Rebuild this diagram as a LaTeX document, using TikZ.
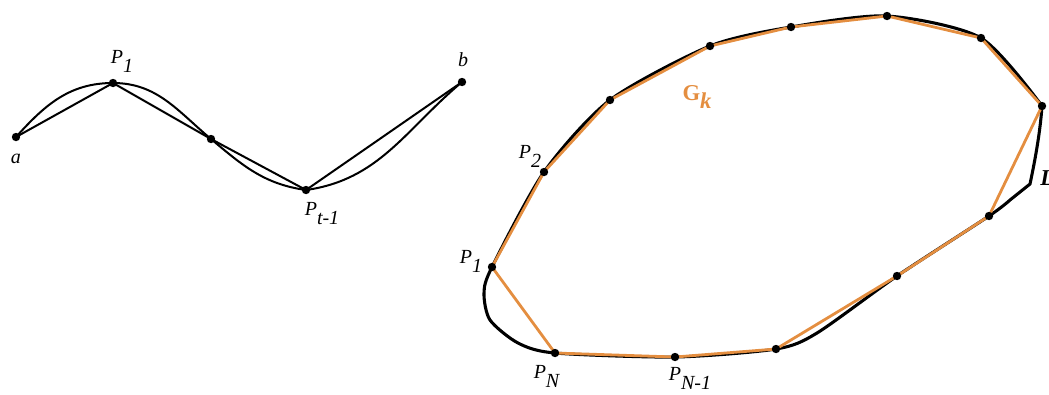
\documentclass[tikz,border=0pt]{standalone}
\usepackage{fontspec}
\setmainfont{Liberation Serif}
\definecolor{og}{RGB}{228,142,64}
\newcommand{\PSub}[2]{\textit{#1}\raisebox{-0.45em}{\textit{#2}}}
\begin{document}
\begin{tikzpicture}[x=0.75pt,y=-0.75pt,
  dot/.style={circle,fill=black,inner sep=0pt,minimum size=6.3pt},
  lbl/.style={font=\fontsize{15}{18}\selectfont,inner sep=0pt},
  thincurve/.style={line width=1.5pt,line join=round},
  thickcurve/.style={line width=2.3pt,line join=round},
  poly/.style={og,line width=2.1pt,line join=round}]
\useasboundingbox (0,0) rectangle (1049,394);
% ---- left figure
\node[dot] (a) at (16,137) {};
\node[dot] (p1) at (113,83) {};
\node[dot] (m) at (211,139) {};
\node[dot] (pt) at (306,190) {};
\node[dot] (b) at (462,82) {};
\draw[thincurve] (a.center) to[out=48,in=180] (p1.center) to[out=0,in=140] (m.center)
  to[out=-40,in=172] (pt.center) to[out=8,in=220] (b.center);
\draw[thincurve] (a.center) -- (p1.center) -- (m.center) -- (pt.center) -- (b.center);
\node[lbl] (la) at (16,159) {\textit{a}};
\node[lbl] (lp1) at (122,61) {\PSub{P}{1}};
\node[lbl] (lb) at (463,60) {\textit{b}};
\node[lbl] (lpt) at (322,214) {\PSub{P}{t-1}};
% ---- right figure
\coordinate (Q1) at (492,267);
\coordinate (Q2) at (544,172);
\coordinate (Q3) at (610,100);
\coordinate (Q4) at (710,46);
\coordinate (Q5) at (791,27);
\coordinate (Q6) at (887,16);
\coordinate (Q7) at (981,38);
\coordinate (Q8) at (1042,106);
\coordinate (Q9) at (989,216);
\coordinate (Q10) at (897,276);
\coordinate (Q11) at (776,349);
\coordinate (QN1) at (675,357);
\coordinate (QN) at (555,353);
\coordinate (c2) at (1030,184);
\coordinate (c3) at (817,333);
\coordinate (c4) at (518,343);
\coordinate (c5) at (490,320);
\coordinate (c6) at (484,293);
\coordinate (c7) at (1010,200);
\draw[thickcurve] plot[smooth,tension=0.45] coordinates {(c7) (Q9) (Q10) (c3) (Q11) (QN1) (QN) (c4) (c5) (c6) (Q1) (Q2) (Q3) (Q4) (Q5) (Q6) (Q7) (Q8)}
  .. controls (1040,135) and (1034,165) .. (c2) -- cycle;
\draw[poly] (Q1) -- (Q2) -- (Q3) -- (Q4) -- (Q5) -- (Q6) -- (Q7) -- (Q8) -- (Q9) -- (Q10) -- (Q11) -- (QN1) -- (QN) -- cycle;
\foreach \q in {Q1,Q2,Q3,Q4,Q5,Q6,Q7,Q8,Q9,Q10,Q11,QN1,QN}
  \node[dot] (d\q) at (\q) {};
\node[lbl] (lq1) at (471,261) {\PSub{P}{1}};
\node[lbl] (lq2) at (530,156) {\PSub{P}{2}};
\node[lbl] (lqn) at (547,376) {\PSub{P}{N}};
\node[lbl] (lqn1) at (690,378) {\PSub{P}{N-1}};
\node[lbl,text=og,font=\fontsize{17}{20}\selectfont\bfseries] (lg) at (697,97) {G\raisebox{-0.35em}{\itshape k}};
\node[lbl,font=\fontsize{17}{20}\selectfont\bfseries\itshape,anchor=west] (ll) at (1040,178) {L};
\end{tikzpicture}
\end{document}
